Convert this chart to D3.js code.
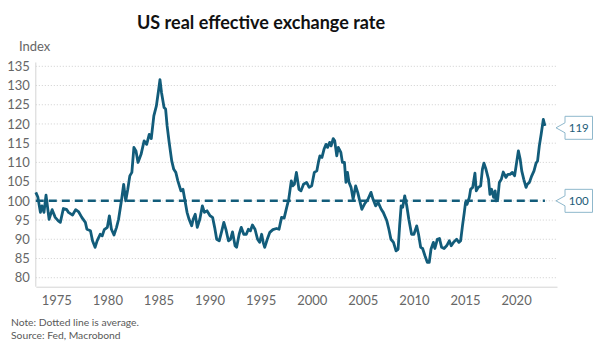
<!DOCTYPE html>
<html>
<head>
<meta charset="utf-8">
<script src="https://cdnjs.cloudflare.com/ajax/libs/d3/7.8.5/d3.min.js"></script>
<style>
  body { margin: 0; background: #fff; }
  svg text { font-family: Lato, "Open Sans", sans-serif; }
</style>
</head>
<body>
<div id="chart-area"></div>
<script>

// SVG Size
var width = 600,
	height = 353;

// data (decimal year, index)
var years = [
	1973.0, 1973.2, 1973.45, 1973.6, 1973.8, 1974.0, 1974.3, 1974.6, 1974.9, 1975.2,
	1975.4, 1975.7, 1976.0, 1976.2, 1976.6, 1976.9, 1977.2, 1977.5, 1977.85, 1978.0,
	1978.35, 1978.55, 1978.8, 1979.0, 1979.3, 1979.5, 1979.7, 1980.0, 1980.2, 1980.4,
	1980.65, 1980.9, 1981.1, 1981.4, 1981.6, 1981.8, 1982.0, 1982.2, 1982.4, 1982.6,
	1982.8, 1983.0, 1983.3, 1983.6, 1983.85, 1984.1, 1984.3, 1984.55, 1984.8, 1985.0,
	1985.15, 1985.3, 1985.55, 1985.7, 1985.85, 1986.05, 1986.3, 1986.5, 1986.7, 1986.9,
	1987.2, 1987.4, 1987.6, 1987.8, 1988.0, 1988.25, 1988.4, 1988.6, 1988.8, 1989.05,
	1989.3, 1989.5, 1989.75, 1990.05, 1990.3, 1990.5, 1990.7, 1990.95, 1991.2, 1991.4,
	1991.6, 1991.85, 1992.05, 1992.25, 1992.5, 1992.65, 1992.9, 1993.1, 1993.35, 1993.6,
	1993.8, 1994.0, 1994.2, 1994.45, 1994.7, 1994.9, 1995.1, 1995.25, 1995.4, 1995.65,
	1995.9, 1996.2, 1996.55, 1996.8, 1997.05, 1997.3, 1997.55, 1997.75, 1998.0, 1998.15,
	1998.3, 1998.5, 1998.75, 1998.95, 1999.2, 1999.5, 1999.75, 2000.0, 2000.25, 2000.5,
	2000.65, 2000.8, 2001.0, 2001.2, 2001.4, 2001.55, 2001.75, 2001.9, 2002.1, 2002.25,
	2002.45, 2002.6, 2002.85, 2003.0, 2003.2, 2003.35, 2003.5, 2003.65, 2003.85, 2004.05,
	2004.3, 2004.5, 2004.7, 2004.9, 2005.15, 2005.5, 2005.8, 2006.0, 2006.25, 2006.5,
	2006.8, 2007.0, 2007.35, 2007.55, 2007.75, 2008.0, 2008.25, 2008.45, 2008.6, 2008.75,
	2008.9, 2009.1, 2009.3, 2009.5, 2009.77, 2010.0, 2010.27, 2010.45, 2010.66, 2010.85,
	2011.08, 2011.31, 2011.5, 2011.67, 2011.9, 2012.05, 2012.29, 2012.5, 2012.71, 2012.95,
	2013.2, 2013.46, 2013.65, 2013.9, 2014.18, 2014.4, 2014.57, 2014.75, 2014.93, 2015.05,
	2015.2, 2015.42, 2015.55, 2015.75, 2015.97, 2016.1, 2016.3, 2016.53, 2016.7, 2016.85,
	2017.05, 2017.3, 2017.44, 2017.6, 2017.8, 2017.95, 2018.03, 2018.2, 2018.36, 2018.55,
	2018.74, 2019.0, 2019.2, 2019.4, 2019.63, 2019.85, 2020.05, 2020.22, 2020.4, 2020.55,
	2020.75, 2020.97, 2021.1, 2021.3, 2021.53, 2021.75, 2021.95, 2022.1, 2022.27, 2022.45,
	2022.66, 2022.82
];
var values = [
	102.2, 101.0, 97.0, 98.7, 97.0, 101.5, 95.2, 97.7, 95.7, 94.8,
	94.4, 98.0, 97.8, 97.0, 96.3, 97.7, 97.1, 95.7, 94.4, 92.6,
	92.2, 89.6, 87.9, 89.6, 91.3, 90.9, 92.5, 93.1, 96.1, 92.6,
	91.1, 93.1, 95.2, 100.4, 104.3, 100.0, 103.0, 106.5, 107.4, 113.9,
	113.0, 110.0, 112.1, 115.6, 114.7, 117.3, 116.2, 122.1, 124.7, 128.5,
	131.5, 128.2, 124.3, 123.9, 119.5, 115.2, 110.4, 108.2, 107.4, 105.2,
	102.6, 103.0, 100.0, 97.0, 95.2, 93.5, 95.2, 96.5, 93.1, 95.2,
	98.7, 97.0, 97.4, 96.1, 95.7, 93.1, 90.0, 89.6, 92.2, 94.4,
	92.6, 89.6, 90.0, 91.9, 88.3, 87.9, 91.3, 93.1, 91.3, 91.3,
	92.6, 92.2, 93.7, 92.6, 90.0, 89.2, 91.3, 89.2, 87.9, 90.0,
	91.8, 92.5, 92.8, 92.6, 95.7, 95.5, 98.3, 100.4, 105.2, 103.9,
	104.3, 107.4, 103.0, 102.6, 104.3, 104.8, 103.5, 103.9, 107.4, 107.8,
	110.0, 111.7, 111.3, 113.4, 114.7, 113.9, 115.2, 114.3, 116.2, 115.6,
	111.7, 113.9, 112.6, 110.0, 110.0, 104.8, 107.4, 104.8, 103.5, 100.4,
	103.9, 102.2, 100.0, 97.8, 99.1, 100.4, 102.2, 100.4, 98.7, 99.6,
	97.8, 97.0, 94.8, 92.6, 90.0, 89.2, 87.0, 87.4, 93.5, 98.7,
	98.3, 101.3, 98.7, 95.2, 91.3, 91.3, 93.5, 91.3, 87.9, 87.6,
	85.7, 84.0, 84.0, 87.4, 89.2, 87.6, 90.0, 90.2, 87.9, 87.6,
	88.3, 89.6, 88.3, 89.3, 90.0, 89.2, 89.6, 93.5, 97.0, 99.6,
	99.1, 100.9, 103.0, 103.5, 107.2, 102.6, 103.5, 103.9, 108.2, 109.8,
	108.2, 105.6, 101.7, 103.0, 100.9, 102.6, 100.0, 100.4, 104.8, 105.6,
	107.5, 106.1, 106.9, 106.9, 107.4, 106.5, 110.0, 113.0, 110.8, 107.8,
	105.6, 103.5, 104.3, 104.8, 106.5, 107.8, 109.8, 110.4, 114.3, 117.3,
	121.2, 119.5
];

var average = 100;
var lastValue = 119;
var yTicks = [80, 85, 90, 95, 100, 105, 110, 115, 120, 125, 130, 135];
var xTicks = [1975, 1980, 1985, 1990, 1995, 2000, 2005, 2010, 2015, 2020];

var lineColor = "#125c7a";

var data = years.map(function(d, i){
	return {year: d, value: values[i]};
});

let svg = d3.select("#chart-area")
	.append("svg")
	.attr("width", width)
	.attr("height", height);

let xScale = d3.scaleLinear()
	.domain([1973, 2024])
	.range([35.8, 557]);

let yScale = d3.scaleLinear()
	.domain([77.66, 135])
	.range([286.7, 66.3]);

// title
svg.append("text")
	.text("US real effective exchange rate")
	.attr("x", 261)
	.attr("y", 29)
	.attr("text-anchor", "middle")
	.style("font-weight", "bold")
	.style("font-size", "18px")
	.style("fill", "#111");

svg.append("text")
	.text("Index")
	.attr("x", 19)
	.attr("y", 50.5)
	.style("font-size", "13px")
	.style("fill", "#666");

// gridlines
svg.selectAll(".grid")
	.data(yTicks)
	.enter()
	.append("line")
	.attr("x1", xScale(1973))
	.attr("x2", xScale(2024))
	.attr("y1", function(d){ return yScale(d); })
	.attr("y2", function(d){ return yScale(d); })
	.attr("stroke", "#cfcfcf")
	.attr("stroke-width", 1)
	.attr("stroke-dasharray", "1,2");

// y axis labels
let yAxis = d3.axisLeft(yScale)
	.tickValues(yTicks)
	.tickSize(0)
	.tickPadding(6);

let yg = svg.append("g")
	.attr("transform", "translate(" + xScale(1973) + ",0)")
	.call(yAxis);
yg.select(".domain").remove();
yg.selectAll("text")
	.style("font-size", "13px")
	.style("fill", "#666")
	.style("font-family", "Lato, sans-serif");

// x axis
let xAxis = d3.axisBottom(xScale)
	.tickValues(xTicks)
	.tickFormat(d3.format("d"))
	.tickSize(0)
	.tickPadding(9);

let xg = svg.append("g")
	.attr("transform", "translate(0," + yScale(77.66) + ")")
	.call(xAxis);
xg.select(".domain").attr("stroke", "#d4d4d4");
xg.selectAll("text")
	.style("font-size", "13px")
	.style("fill", "#666")
	.style("font-family", "Lato, sans-serif");

// left axis line
svg.append("line")
	.attr("x1", xScale(1973))
	.attr("x2", xScale(1973))
	.attr("y1", yScale(136))
	.attr("y2", yScale(77.66))
	.attr("stroke", "#d4d4d4");

// average
svg.append("line")
	.attr("x1", xScale(1973))
	.attr("x2", xScale(d3.max(years)))
	.attr("y1", yScale(average))
	.attr("y2", yScale(average))
	.attr("stroke", lineColor)
	.attr("stroke-width", 2.5)
	.attr("stroke-dasharray", "8,5");

// the series
let line = d3.line()
	.x(function(d){ return xScale(d.year); })
	.y(function(d){ return yScale(d.value); });

svg.append("path")
	.datum(data)
	.attr("d", line)
	.attr("fill", "none")
	.attr("stroke", lineColor)
	.attr("stroke-width", 2.8)
	.attr("stroke-linejoin", "round");

// callouts
function callout(v){
	let cy = yScale(v);
	let x0 = 556, bx = 565, bw = 27.5, bh = 23;
	let p = "M" + x0 + "," + cy +
		" L" + bx + "," + (cy - 5) +
		" L" + bx + "," + (cy - bh / 2) +
		" L" + (bx + bw) + "," + (cy - bh / 2) +
		" L" + (bx + bw) + "," + (cy + bh / 2) +
		" L" + bx + "," + (cy + bh / 2) +
		" L" + bx + "," + (cy + 5) + " Z";
	svg.append("path")
		.attr("d", p)
		.attr("fill", "#fff")
		.attr("stroke", "#8fb8cc")
		.attr("stroke-width", 1);
	svg.append("text")
		.text(v)
		.attr("x", bx + bw / 2)
		.attr("y", cy + 4)
		.attr("text-anchor", "middle")
		.style("font-size", "11.5px")
		.style("fill", "#1d5c78");
}
callout(lastValue);
callout(average);

// footnotes
svg.append("text")
	.text("Note: Dotted line is average.")
	.attr("x", 11)
	.attr("y", 325.5)
	.style("font-size", "10.3px")
	.style("fill", "#595959");

svg.append("text")
	.text("Source: Fed, Macrobond")
	.attr("x", 11)
	.attr("y", 338.5)
	.style("font-size", "10.3px")
	.style("fill", "#595959");

</script>
</body>
</html>
